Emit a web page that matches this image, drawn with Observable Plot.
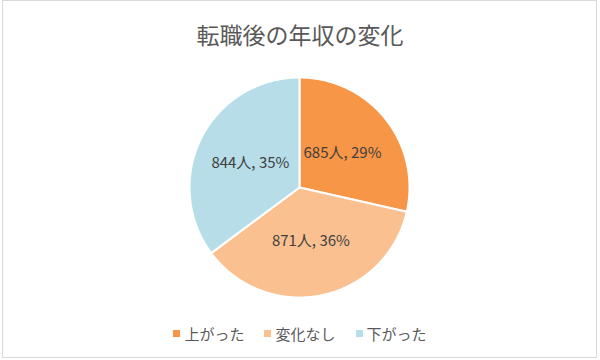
<!DOCTYPE html>
<html><head><meta charset="utf-8">
<script src="https://cdn.jsdelivr.net/npm/d3@7"></script>
<script src="https://cdn.jsdelivr.net/npm/@observablehq/plot@0.6"></script>
<style>
body{margin:0;width:600px;height:360px;background:#fff;font-family:"Noto Sans CJK JP","Noto Sans",sans-serif;position:relative;overflow:hidden}
#frame{position:absolute;left:2px;top:0;width:595px;height:358px;box-sizing:border-box;border:1px solid #d9d9d9}
#title{position:absolute;left:0;top:23px;width:600px;text-align:center;font-size:23px;line-height:23px;color:#595959}
#chart{position:absolute;left:0;top:67px}
#legend{position:absolute;left:0;top:326px;width:600px;display:flex;justify-content:center;gap:20px;font-size:15px;line-height:15px;color:#595959}
#legend .item{display:flex;align-items:center;gap:4px}
#legend .sw{width:7px;height:7px;display:inline-block}
</style></head>
<body>
<div id="frame"></div>
<div id="title">転職後の年収の変化</div>
<div id="chart"></div>
<div id="legend"></div>
<script>
const categories = ["上がった", "変化なし", "下がった"];
const counts = [685, 871, 844];
const colors = ["#F79646", "#FAC090", "#B7DEE8"];

const total = d3.sum(counts);
let acc = 0;
const slices = categories.map((c, i) => {
  const a0 = acc / total * 2 * Math.PI;
  acc += counts[i];
  const a1 = acc / total * 2 * Math.PI;
  return {c, v: counts[i], a0, a1};
});
const pts = [];
for (const s of slices) {
  pts.push({c: s.c, x: 0, y: 0});
  const n = Math.max(2, Math.ceil((s.a1 - s.a0) / 0.01));
  for (let k = 0; k <= n; k++) {
    const a = s.a0 + (s.a1 - s.a0) * k / n;
    pts.push({c: s.c, x: Math.sin(a), y: Math.cos(a)});
  }
}
const labels = slices.map(s => {
  const m = (s.a0 + s.a1) / 2;
  return {x: 0.5 * Math.sin(m), y: 0.5 * Math.cos(m), text: `${s.v}人, ${Math.round(s.v / total * 100)}%`};
});

const chart = Plot.plot({
  width: 600, height: 240,
  marginLeft: 189, marginRight: 191, marginTop: 10, marginBottom: 10,
  x: {domain: [-1, 1], axis: null},
  y: {domain: [-1, 1], axis: null},
  color: {domain: categories, range: colors},
  style: {fontFamily: '"Noto Sans CJK JP","Noto Sans",sans-serif', background: "transparent"},
  marks: [
    Plot.line(pts, {x: "x", y: "y", z: "c", fill: "c", stroke: "white", strokeWidth: 2, curve: "linear-closed"}),
    Plot.text(labels, {x: "x", y: "y", text: "text", fontSize: 15, fill: "#404040"})
  ]
});
document.getElementById("chart").appendChild(chart);

const legend = document.getElementById("legend");
categories.forEach((c, i) => {
  const it = document.createElement("div");
  it.className = "item";
  const sw = document.createElement("span");
  sw.className = "sw";
  sw.style.background = colors[i];
  const t = document.createElement("span");
  t.textContent = c;
  it.appendChild(sw); it.appendChild(t);
  legend.appendChild(it);
});
</script>
</body></html>
